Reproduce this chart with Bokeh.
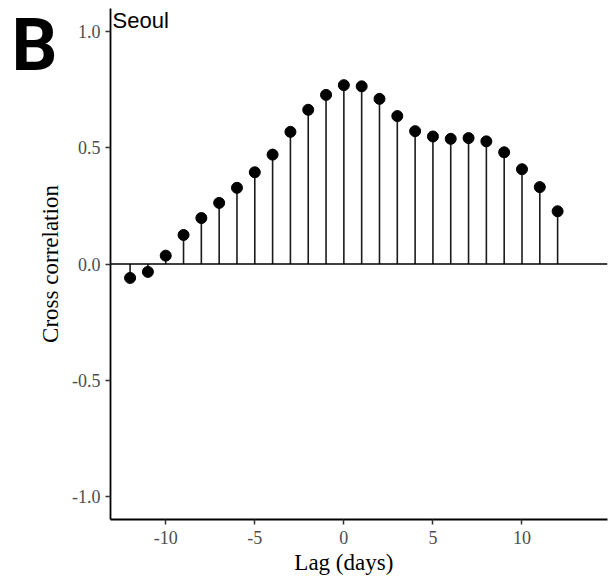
from bokeh.plotting import figure
from bokeh.models import Range1d, FixedTicker, Span, Label, ColumnDataSource, LinearAxis
from bokeh.embed import file_html
from bokeh.resources import INLINE

lags = list(range(-12, 13))
ccf = [-0.060, -0.034, 0.036, 0.125, 0.198, 0.263, 0.328, 0.395, 0.471, 0.569,
       0.664, 0.728, 0.770, 0.765, 0.711, 0.637, 0.572, 0.549, 0.539, 0.542,
       0.528, 0.481, 0.408, 0.331, 0.227]
x_ticks = [-10, -5, 0, 5, 10]
x_tick_labels = ["-10", "-5", "0", "5", "10"]
y_ticks = [-1.0, -0.5, 0.0, 0.5, 1.0]
y_tick_labels = ["-1.0", "-0.5", "0.0", "0.5", "1.0"]
x_title = "Lag (days)"
y_title = "Cross correlation"
panel_title = "Seoul"
panel_tag = "B"
zeros = [0.0] * len(lags)

src = ColumnDataSource(dict(lag=lags, ccf=ccf, zero=zeros))

p = figure(width=612, height=583, output_backend="svg", toolbar_location=None,
           x_range=Range1d(-13.1, 14.8), y_range=Range1d(-1.1, 1.1),
           min_border_left=110, min_border_right=5, min_border_top=8,
           min_border_bottom=64)
p.outline_line_color = None
p.xgrid.visible = False
p.ygrid.visible = False
p.background_fill_color = "white"
p.border_fill_color = "white"

serif = "Liberation Serif"
for ax, ticks, labels in ((p.xaxis[0], x_ticks, x_tick_labels), (p.yaxis[0], y_ticks, y_tick_labels)):
    ax.ticker = FixedTicker(ticks=ticks)
    ax.major_label_overrides = {t: l for t, l in zip(ticks, labels)}
    ax.minor_tick_line_color = None
    ax.major_tick_in = 0
    ax.major_tick_out = 5
    ax.major_tick_line_color = "#333333"
    ax.major_tick_line_width = 1.5
    ax.axis_line_color = "black"
    ax.axis_line_width = 1.8
    ax.major_label_text_font = serif
    ax.major_label_text_font_size = "18px"
    ax.major_label_text_color = "#4D4D4D"
    ax.axis_label_text_font = serif
    ax.axis_label_text_font_size = "23px"
    ax.axis_label_text_font_style = "normal"
    ax.axis_label_text_color = "black"

p.yaxis.axis_label = y_title
p.xaxis.major_label_standoff = 6
p.yaxis.major_label_standoff = 5
p.yaxis.axis_label_standoff = 6

# x-axis title, centred on lag 0 as in the original
lag_axis = LinearAxis(ticker=FixedTicker(ticks=[0]), major_label_overrides={0: x_title},
                      axis_line_color=None, major_tick_line_color=None,
                      minor_tick_line_color=None, major_tick_in=0, major_tick_out=0,
                      major_label_standoff=3, major_label_text_font=serif,
                      major_label_text_font_size="23px", major_label_text_color="black")
p.add_layout(lag_axis, "below")

# panel tag "B" in the left margin
tag_y = 0.961
tag_axis = LinearAxis(ticker=FixedTicker(ticks=[tag_y]), major_label_overrides={tag_y: panel_tag},
                      axis_line_color=None, major_tick_line_color=None,
                      minor_tick_line_color=None, major_tick_in=0, major_tick_out=0,
                      major_label_standoff=-22, major_label_text_font="Roboto",
                      major_label_text_font_style="bold", major_label_text_font_size="72px",
                      major_label_text_color="black")
p.add_layout(tag_axis, "left")

p.add_layout(Span(location=0, dimension="width", line_color="black", line_width=1.6))
p.segment(x0="lag", y0="zero", x1="lag", y1="ccf", source=src,
          line_color="#1a1a1a", line_width=1.6)
p.scatter(x="lag", y="ccf", source=src, size=11, fill_color="black", line_color="black")

p.add_layout(Label(x=-13.1, y=1.1, x_offset=2, y_offset=1, text=panel_title,
                   text_font="Liberation Sans", text_font_size="22px",
                   text_color="black", text_baseline="top", text_align="left"))

open("out.html", "w").write(file_html(p, INLINE))
